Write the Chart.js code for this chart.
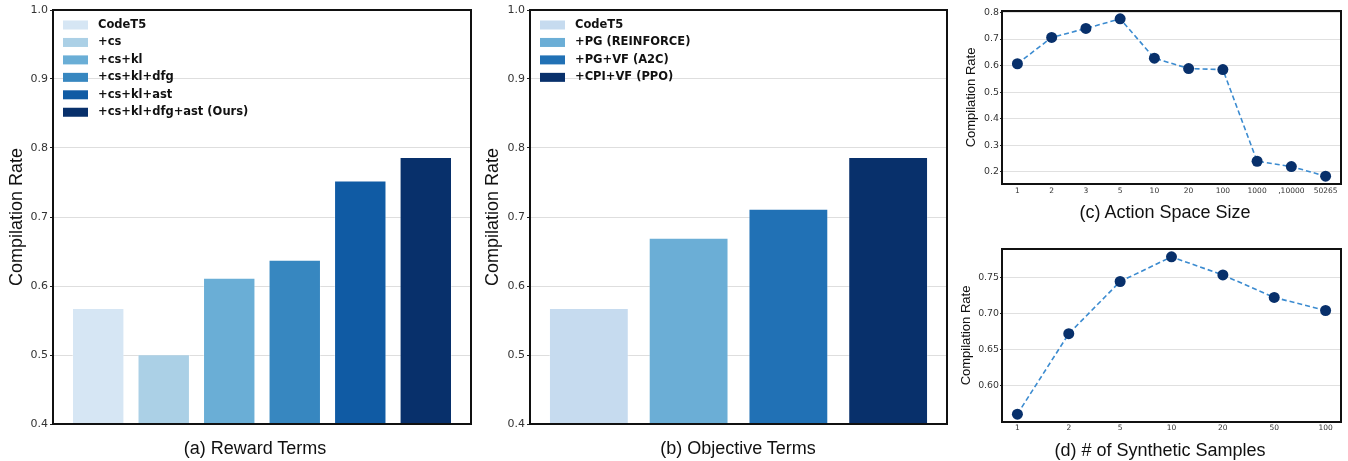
<!DOCTYPE html>
<html>
<head>
<meta charset="utf-8">
<script src="https://cdn.jsdelivr.net/npm/chart.js@4.4.0/dist/chart.umd.min.js"></script>
<style>
  body { margin: 0; background: #fff; width: 1348px; height: 461px; position: relative; overflow: hidden; font-family: 'Liberation Sans', Arial, sans-serif; }
  .box { position: absolute; }
  .cap { position: absolute; width: 300px; font-size: 18px; line-height: 20px; color: #111; text-align: center; white-space: nowrap; }
</style>
</head>
<body>
<div class="box" style="left:0;top:0"><canvas id="chartA" width="480" height="461"></canvas></div>
<div class="box" style="left:480px;top:0"><canvas id="chartB" width="470" height="461"></canvas></div>
<div class="box" style="left:950px;top:0"><canvas id="chartC" width="398" height="230"></canvas></div>
<div class="box" style="left:950px;top:230px"><canvas id="chartD" width="398" height="231"></canvas></div>

<div class="cap" style="left:105px;top:438px">(a) Reward Terms</div>
<div class="cap" style="left:588px;top:438px">(b) Objective Terms</div>
<div class="cap" style="left:1015px;top:202px">(c) Action Space Size</div>
<div class="cap" style="left:1010px;top:440px">(d) # of Synthetic Samples</div>

<script>
// data
const rewardTerms = ['CodeT5', '+cs', '+cs+kl', '+cs+kl+dfg', '+cs+kl+ast', '+cs+kl+dfg+ast (Ours)'];
const rewardRates = [0.568, 0.501, 0.612, 0.638, 0.753, 0.787];
const rewardColors = ['#d6e6f4', '#abd0e6', '#6aaed6', '#3787c0', '#105ba4', '#08306b'];

const objectiveTerms = ['CodeT5', '+PG (REINFORCE)', '+PG+VF (A2C)', '+CPI+VF (PPO)'];
const objectiveRates = [0.568, 0.670, 0.712, 0.787];
const objectiveColors = ['#c6dbef', '#6baed6', '#2171b5', '#08306b'];

const barTicks = [0.4, 0.5, 0.6, 0.7, 0.8, 0.9, 1.0];

const actionSizes = ['1', '2', '3', '5', '10', '20', '100', '1000', ',10000', '50265'];
const actionRates = [0.607, 0.706, 0.740, 0.776, 0.628, 0.589, 0.585, 0.240, 0.220, 0.184];
const actionTicks = [0.2, 0.3, 0.4, 0.5, 0.6, 0.7, 0.8];

const sampleCounts = ['1', '2', '5', '10', '20', '50', '100'];
const sampleRates = [0.561, 0.672, 0.744, 0.778, 0.753, 0.722, 0.704];
const sampleTicks = [0.60, 0.65, 0.70, 0.75];

const tickFont = 'DejaVu Sans';
const titleFont = 'Liberation Sans';

// black box round the plot area
const frame = {
  id: 'frame',
  afterDraw(chart) {
    const a = chart.chartArea;
    const ctx = chart.ctx;
    ctx.save();
    ctx.strokeStyle = '#111';
    ctx.lineWidth = 2;
    ctx.strokeRect(a.left, a.top, a.right - a.left, a.bottom - a.top);
    ctx.restore();
  }
};

// legend inside the plot, upper left
const boxLegend = {
  id: 'boxLegend',
  afterDatasetsDraw(chart, args, opts) {
    if (!opts.labels) return;
    const a = chart.chartArea;
    const ctx = chart.ctx;
    ctx.save();
    ctx.font = 'bold 11.5px "DejaVu Sans"';
    ctx.textBaseline = 'middle';
    opts.labels.forEach((label, i) => {
      const y = a.top + 15 + i * 17.45;
      ctx.fillStyle = opts.colors[i];
      ctx.fillRect(a.left + 10, y - 4.5, 25, 9);
      ctx.fillStyle = '#111';
      ctx.fillText(label, a.left + 45, y);
    });
    ctx.restore();
  }
};

function barChart(id, cats, vals, colors, sizes) {
  const n = cats.length;
  const margin = 0.05 * (n - 0.2);
  new Chart(document.getElementById(id), {
    type: 'bar',
    data: {
      datasets: [{
        data: vals.map((v, i) => ({ x: i, y: v })),
        backgroundColor: colors,
        borderColor: 'rgba(255,255,255,0.35)',
        borderWidth: 1,
        categoryPercentage: 1,
        barPercentage: 0.8
      }]
    },
    options: {
      responsive: false,
      animation: false,
      layout: { padding: { top: 10, right: sizes.right, left: 0, bottom: 0 } },
      plugins: {
        legend: { display: false },
        tooltip: { enabled: false },
        boxLegend: { labels: cats, colors: colors }
      },
      scales: {
        x: {
          type: 'linear',
          min: -0.4 - margin,
          max: n - 0.6 + margin,
          offset: false,
          afterBuildTicks: s => { s.ticks = cats.map((c, i) => ({ value: i })); },
          afterFit: s => { s.height = 37; },
          ticks: { display: false },
          grid: { display: false, drawTicks: false, offset: false },
          border: { display: false }
        },
        y: {
          min: 0.4,
          max: 1.0,
          afterBuildTicks: s => { s.ticks = barTicks.map(v => ({ value: v })); },
          afterFit: s => { s.width = sizes.left; },
          ticks: {
            font: { family: tickFont, size: 11 },
            color: '#333',
            padding: 2,
            callback: v => v.toFixed(1)
          },
          grid: { color: '#dedede', lineWidth: 1, tickLength: 3, tickColor: '#222' },
          border: { display: false },
          title: {
            display: true,
            text: 'Compilation Rate',
            font: { family: titleFont, size: 18 },
            color: '#111',
            padding: { top: sizes.titlePad, bottom: 0 }
          }
        }
      }
    },
    plugins: [boxLegend, frame]
  });
}

function lineChart(id, cats, vals, ticks, digits, sizes) {
  const n = cats.length;
  const lo = Math.min(...vals), hi = Math.max(...vals);
  const ym = 0.05 * (hi - lo);
  const xm = 0.05 * (n - 1);
  new Chart(document.getElementById(id), {
    type: 'line',
    data: {
      datasets: [{
        data: vals.map((v, i) => ({ x: i, y: v })),
        borderColor: '#3b8bd0',
        borderWidth: 1.6,
        borderDash: [5, 3],
        pointRadius: 5.5,
        pointBackgroundColor: '#08306b',
        pointBorderColor: '#08306b',
        pointBorderWidth: 0,
        tension: 0,
        clip: false
      }]
    },
    options: {
      responsive: false,
      animation: false,
      layout: { padding: { top: sizes.top, right: sizes.right, left: 0, bottom: 0 } },
      plugins: { legend: { display: false }, tooltip: { enabled: false } },
      scales: {
        x: {
          type: 'linear',
          min: -xm,
          max: n - 1 + xm,
          afterBuildTicks: s => { s.ticks = cats.map((c, i) => ({ value: i })); },
          afterFit: s => { s.height = sizes.bottom; },
          ticks: {
            font: { family: tickFont, size: 7.5 },
            color: '#333',
            padding: sizes.xPad,
            autoSkip: false,
            maxRotation: 0,
            callback: v => cats[v]
          },
          grid: { display: false, drawTicks: false },
          border: { display: false }
        },
        y: {
          min: lo - ym,
          max: hi + ym,
          afterBuildTicks: s => { s.ticks = ticks.map(v => ({ value: v })); },
          afterFit: s => { s.width = sizes.left; },
          ticks: {
            font: { family: tickFont, size: 9.4 },
            color: '#333',
            padding: 1,
            callback: v => v.toFixed(digits)
          },
          grid: { color: '#e0e0e0', lineWidth: 1, tickLength: 2, tickColor: '#222' },
          border: { display: false },
          title: {
            display: true,
            text: 'Compilation Rate',
            font: { family: titleFont, size: 13 },
            color: '#111',
            padding: { top: sizes.titlePad, bottom: 0 }
          }
        }
      }
    },
    plugins: [frame]
  });
}

barChart('chartA', rewardTerms, rewardRates, rewardColors, { left: 53, right: 9, titlePad: 6 });
barChart('chartB', objectiveTerms, objectiveRates, objectiveColors, { left: 50, right: 3, titlePad: 2.5 });
lineChart('chartC', actionSizes, actionRates, actionTicks, 1, { left: 52, right: 7, top: 11, bottom: 46, xPad: 3, titlePad: 14 });
lineChart('chartD', sampleCounts, sampleRates, sampleTicks, 2, { left: 52, right: 7, top: 19, bottom: 39, xPad: 2, titlePad: 9 });
</script>
</body>
</html>
